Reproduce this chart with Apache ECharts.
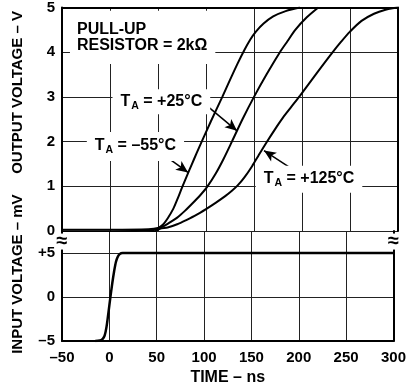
<!DOCTYPE html>
<html><head><meta charset="utf-8">
<script src="https://cdn.jsdelivr.net/npm/echarts@6/dist/echarts.min.js"></script>
<style>html,body{margin:0;padding:0;background:#fff}#c{width:409px;height:391px}</style>
</head><body><div id="c"></div>
<script>
// ---- data ----
const timeTicks = [-50, 0, 50, 100, 150, 200, 250, 300];
const outTicks = [0, 1, 2, 3, 4, 5];
const inTicks = [-5, 0, 5];

const tM55 = [-50, 0, 40, 50, 55, 60, 66, 70, 75, 80, 85, 90, 96, 105, 117, 125, 133, 140, 146, 152, 160, 170, 183, 198];
const vM55 = [0.03, 0.03, 0.04, 0.07, 0.14, 0.28, 0.5, 0.7, 0.97, 1.23, 1.48, 1.73, 2.02, 2.45, 3.0, 3.38, 3.75, 4.05, 4.28, 4.46, 4.64, 4.8, 4.92, 5.0];

const tP25 = [-50, 0, 45, 52, 55, 60, 70, 78, 86, 94, 101, 110, 118, 127, 138, 150, 163, 177, 185, 193, 205, 217];
const vP25 = [-0.01, -0.01, 0.02, 0.07, 0.1, 0.16, 0.3, 0.45, 0.62, 0.8, 0.98, 1.28, 1.6, 2.0, 2.5, 3.0, 3.5, 4.0, 4.25, 4.5, 4.78, 5.0];

const tP125 = [-50, 0, 45, 52, 60, 70, 80, 90, 100, 110, 120, 127, 133, 140, 148, 155, 163, 172, 180, 189, 198, 215, 232, 241, 250, 262, 275, 287, 299];
const vP125 = [-0.05, -0.05, -0.02, 0.05, 0.08, 0.15, 0.25, 0.36, 0.49, 0.63, 0.78, 0.9, 1.02, 1.2, 1.45, 1.7, 1.98, 2.28, 2.53, 2.78, 3.03, 3.52, 4.0, 4.24, 4.46, 4.7, 4.86, 4.95, 5.0];

const tIn = [-15, -10, -7, -5, -3, -1, 1, 3, 5, 7, 9, 11, 14, 300];
const vIn = [-5, -4.95, -4.75, -4.4, -3.4, -1.8, -0.1, 1.5, 2.9, 4.0, 4.6, 4.9, 5, 5];

// annotation texts and anchor points (data units)
const noteResistor = 'PULL-UP\nRESISTOR = 2kΩ';
const noteResistorAt = [-41.7, 4.33];
const noteP25 = ' = +25°C', noteP25At = [53.5, 2.89], arrowP25 = [[99, 2.84], [132.3, 2.24]];
const noteM55 = ' = –55°C', noteM55At = [26.5, 1.89], arrowM55 = [[54.2, 1.73], [81.3, 1.31]];
const noteP125 = ' = +125°C', noteP125At = [207.3, 1.16], arrowP125 = [[187.5, 1.42], [160.4, 1.8]];

// ---- chart ----
const FONT = '"Liberation Sans", Arial, Helvetica, sans-serif';
const zip = (t, v) => t.map((x, i) => [x, v[i]]);
const dash = v => (v < 0 ? '–' + (-v) : String(v));
const txt = { fontFamily: FONT, fontWeight: 'bold', fontSize: 15, color: '#000' };
const txt16 = { fontFamily: FONT, fontWeight: 'bold', fontSize: 16, color: '#000' };
const rich = {
  t: { fontFamily: FONT, fontWeight: 'bold', fontSize: 16, color: '#000', lineHeight: 18 },
  s: { fontFamily: FONT, fontWeight: 'bold', fontSize: 10.5, color: '#000', lineHeight: 10, padding: [9, 0, 0, 1] }
};
const ta = s => '{t|T}{s|A}{t|' + s + '}';
const gridLine = { show: true, lineStyle: { color: '#222', width: 1 } };
const frame = { show: true, onZero: false, lineStyle: { color: '#000', width: 2 } };
const lineS = (name, t, v) => ({
  name, type: 'line', xAxisIndex: 0, yAxisIndex: 0, data: zip(t, v),
  showSymbol: false, smooth: 0.3, lineStyle: { color: '#000', width: 2 }, itemStyle: { color: '#000' },
  animation: false, silent: true
});
const note = (text, at, pad, align) => ({
  coord: at, symbol: 'circle', symbolSize: 1, itemStyle: { color: 'rgba(0,0,0,0)' },
  label: { show: true, position: 'inside', formatter: text, rich, backgroundColor: '#fff', padding: pad,
    align: align || 'center', verticalAlign: 'middle', ...txt16 }
});
const arrow = a => [{ coord: a[0] }, { coord: a[1] }];

const chart = echarts.init(document.getElementById('c'));
const s125 = lineS('+125', tP125, vP125);
const resNote = note(noteResistor, noteResistorAt, [9, 8, 11, 7], 'left');
resNote.label.lineHeight = 16.6;
delete resNote.label.rich;
s125.markPoint = {
  silent: true, animation: false,
  data: [
    resNote,
    note(ta(noteP25), noteP25At, [3, 8, 4, 8]),
    note(ta(noteM55), noteM55At, [5, 8, 6, 8]),
    note(ta(noteP125), noteP125At, [4, 8, 5, 8])
  ]
};
s125.markLine = {
  silent: true, animation: false, symbol: ['none', 'arrow'], symbolSize: [8, 12],
  label: { show: false }, lineStyle: { color: '#000', width: 1.5, type: 'solid' }, itemStyle: { color: '#000' },
  data: [arrow(arrowP25), arrow(arrowM55), arrow(arrowP125)]
};

const option = {
  backgroundColor: '#fff',
  animation: false,
  grid: [
    { left: 62, right: 11, top: 6, height: 225 },
    { left: 62, right: 11, top: 231, height: 110 }
  ],
  xAxis: [
    { gridIndex: 0, type: 'value', min: timeTicks[0], max: timeTicks[timeTicks.length - 1], interval: timeTicks[1] - timeTicks[0],
      position: 'top', axisLine: frame, axisTick: { show: false }, axisLabel: { show: false }, splitLine: gridLine },
    { gridIndex: 1, type: 'value', min: timeTicks[0], max: timeTicks[timeTicks.length - 1], interval: timeTicks[1] - timeTicks[0],
      position: 'bottom', axisLine: frame, axisTick: { show: false },
      axisLabel: { ...txt, margin: 9, formatter: dash }, splitLine: gridLine,
      name: 'TIME – ns', nameLocation: 'middle', nameGap: 29, nameTextStyle: txt16 }
  ],
  yAxis: [
    { gridIndex: 0, type: 'value', min: outTicks[0], max: outTicks[outTicks.length - 1], interval: 1,
      position: 'left', axisLine: frame, axisTick: { show: false }, axisLabel: { ...txt, margin: 7 }, splitLine: gridLine },
    { gridIndex: 0, type: 'value', min: outTicks[0], max: outTicks[outTicks.length - 1], interval: 1,
      position: 'right', axisLine: frame, axisTick: { show: false }, axisLabel: { show: false }, splitLine: { show: false } },
    { gridIndex: 1, type: 'value', min: inTicks[0], max: 7.5, interval: inTicks[1] - inTicks[0],
      position: 'left', axisLine: frame, axisTick: { show: false },
      axisLabel: { ...txt, margin: 7, formatter: v => (inTicks.indexOf(v) < 0 ? '' : (v > 0 ? '+' + v : dash(v))) },
      splitLine: gridLine },
    { gridIndex: 1, type: 'value', min: inTicks[0], max: 7.5, interval: inTicks[1] - inTicks[0],
      position: 'right', axisLine: frame, axisTick: { show: false }, axisLabel: { show: false }, splitLine: { show: false } }
  ],
  series: [
    lineS('-55', tM55, vM55),
    lineS('+25', tP25, vP25),
    s125,
    { name: 'input', type: 'line', xAxisIndex: 1, yAxisIndex: 2, data: zip(tIn, vIn), showSymbol: false, smooth: 0.3,
      lineStyle: { color: '#000', width: 2.5 }, animation: false, silent: true }
  ]
};
chart.setOption(option);

// decorations positioned through the axes
const pL = chart.convertToPixel({ gridIndex: 1 }, [timeTicks[0], 6.3]);
const pR = chart.convertToPixel({ gridIndex: 1 }, [timeTicks[timeTicks.length - 1], 6.3]);
const yOut = chart.convertToPixel({ gridIndex: 0 }, [timeTicks[0], 3.1])[1];
const yIn = chart.convertToPixel({ gridIndex: 1 }, [timeTicks[0], 2.6])[1];
const brk = p => ({ type: 'text', x: p[0], y: p[1], z: 100,
  style: { text: '≈', font: 'bold 20px ' + FONT, fill: '#000', align: 'center', verticalAlign: 'middle',
    backgroundColor: '#fff', padding: [0, 1], lineHeight: 16 } });
const ytitle = (s, y) => ({ type: 'text', x: pL[0] - 44, y, rotation: Math.PI / 2, z: 100,
  style: { text: s, font: 'bold 15px ' + FONT, fill: '#000', align: 'center', verticalAlign: 'middle' } });
chart.setOption({ graphic: [brk(pL), brk(pR), ytitle('OUTPUT VOLTAGE – V', yOut), ytitle('INPUT VOLTAGE – mV', yIn)] });
</script></body></html>
